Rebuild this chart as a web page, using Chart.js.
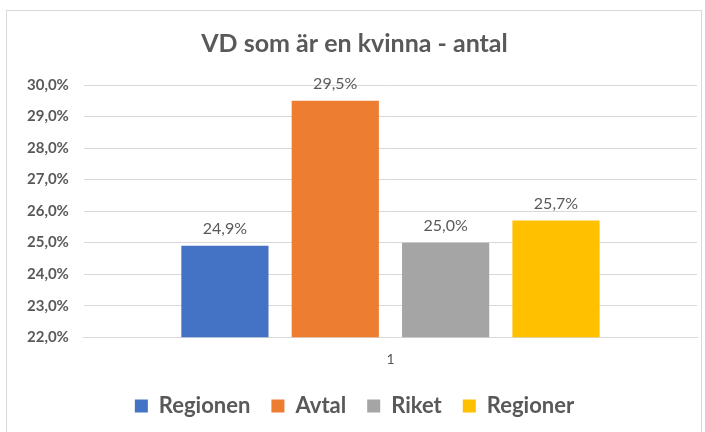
<!DOCTYPE html>
<html lang="sv">
<head>
    <meta charset="UTF-8">
    <title>VD som är en kvinna - antal</title>
    <style>
        html, body { margin: 0; padding: 0; background: #fff; }
        #frame {
            position: absolute;
            left: 6px;
            top: 10px;
            width: 696px;
            height: 430px;
            border: 1px solid #d9d9d9;
            box-sizing: border-box;
        }
        canvas { display: block; }
    </style>
</head>
<body>
    <div id="frame"><canvas id="vdChart"></canvas></div>

    <script src="https://cdn.jsdelivr.net/npm/chart.js"></script>
    <script>
        // Data
        const categories = ['1'];
        const seriesNames = ['Regionen', 'Avtal', 'Riket', 'Regioner'];
        const seriesValues = [24.9, 29.5, 25.0, 25.7];
        const seriesColors = ['#4472C4', '#ED7D31', '#A5A5A5', '#FFC000'];
        const yMin = 22, yMax = 30, yStep = 1;

        const fmt = v => v.toFixed(1).replace('.', ',') + '%';
        const FONT = 'Lato, "Open Sans", sans-serif';

        // Value labels above each bar
        const valueLabels = {
            id: 'valueLabels',
            afterDatasetsDraw(chart) {
                const ctx = chart.ctx;
                ctx.save();
                ctx.font = '16px ' + FONT;
                ctx.fillStyle = '#595959';
                ctx.textAlign = 'center';
                ctx.textBaseline = 'bottom';
                chart.data.datasets.forEach((ds, i) => {
                    chart.getDatasetMeta(i).data.forEach((bar, j) => {
                        ctx.fillText(fmt(ds.data[j]), bar.x, bar.y - 9);
                    });
                });
                ctx.restore();
            }
        };

        const datasets = seriesNames.map((name, i) => ({
            label: name,
            data: [seriesValues[i]],
            backgroundColor: seriesColors[i],
            categoryPercentage: 0.72,
            barPercentage: 0.79
        }));

        new Chart(document.getElementById('vdChart'), {
            type: 'bar',
            data: { labels: categories, datasets },
            plugins: [valueLabels],
            options: {
                responsive: true,
                maintainAspectRatio: false,
                animation: false,
                layout: { padding: { left: 5, right: 4, top: 0, bottom: 12 } },
                plugins: {
                    title: {
                        display: true,
                        text: 'VD som är en kvinna - antal',
                        color: '#595959',
                        font: { family: FONT, size: 25, weight: 'bold' },
                        padding: { top: 18, bottom: 26 }
                    },
                    legend: {
                        position: 'bottom',
                        labels: {
                            color: '#595959',
                            font: { family: FONT, size: 22, weight: 'bold' },
                            boxWidth: 13,
                            boxHeight: 13,
                            padding: 21
                        }
                    },
                    tooltip: { enabled: false }
                },
                scales: {
                    x: {
                        grid: { display: false },
                        border: { color: '#d9d9d9' },
                        ticks: { color: '#595959', font: { family: FONT, size: 14 }, padding: 6 }
                    },
                    y: {
                        min: yMin,
                        max: yMax,
                        grid: { color: '#d9d9d9', drawTicks: false },
                        border: { display: false },
                        ticks: {
                            stepSize: yStep,
                            color: '#595959',
                            font: { family: FONT, size: 15, weight: 'bold' },
                            padding: 15,
                            callback: v => fmt(v)
                        }
                    }
                }
            }
        });
    </script>
</body>
</html>
